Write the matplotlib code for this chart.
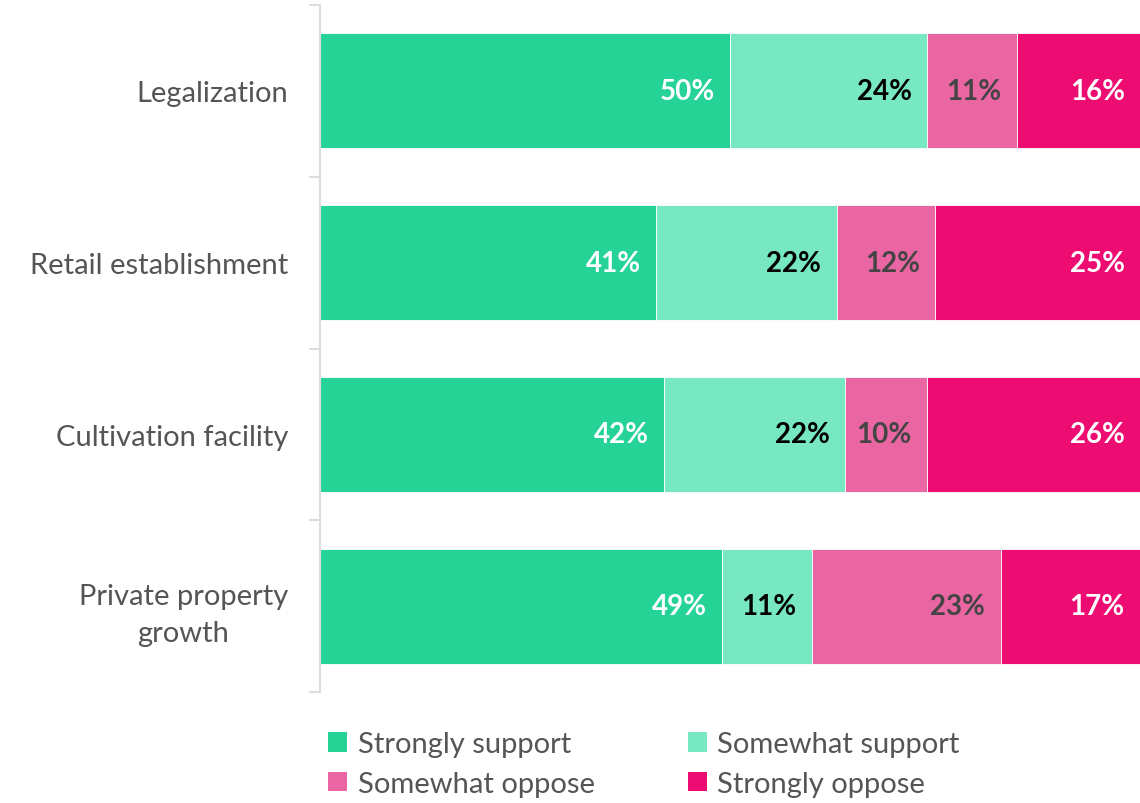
import matplotlib
matplotlib.use("Agg")
import matplotlib.pyplot as plt
from matplotlib.patches import Patch
import numpy as np

plt.rcParams['font.family'] = ['Lato', 'DejaVu Sans']

categories = ["Legalization", "Retail establishment", "Cultivation facility", "Private property\ngrowth"]
series_names = ["Strongly support", "Somewhat support", "Somewhat oppose", "Strongly oppose"]
strongly_support = [50, 41, 42, 49]
somewhat_support = [24, 22, 22, 11]
somewhat_oppose = [11, 12, 10, 23]
strongly_oppose = [16, 25, 26, 17]

colors = ["#26d396", "#78e8c2", "#e966a3", "#ec0c72"]
label_colors = ["white", "black", "#444444", "white"]

fig = plt.figure(figsize=(11.4, 8.04), dpi=100)
ax = fig.add_axes([320/1140, 111/804, 1 - 320/1140, (693-6)/804])

series = [strongly_support, somewhat_support, somewhat_oppose, strongly_oppose]
y = np.arange(len(categories))
left = np.zeros(len(categories))
XMAX = 100
for vals, c, lc, name in zip(series, colors, label_colors, series_names):
    vals = np.array(vals, dtype=float)
    ax.barh(y, vals, left=left, height=0.67, color=c, edgecolor="white", linewidth=0.6, label=name)
    for yi, l, v in zip(y, left, vals):
        end = min(l + v, XMAX)
        ax.annotate(f"{int(v)}%", xy=(end, yi), xytext=(-11, 0), textcoords="offset points",
                    ha="right", va="center", fontsize=20, fontweight="bold", color=lc)
    left += vals

ax.set_xlim(0, XMAX)
ax.set_ylim(3.5, -0.5)
ax.set_xticks([])
ax.set_yticks(y)
ax.set_yticklabels(categories, fontsize=21, color="#555555", ha="right", multialignment="center",
                   linespacing=1.55)
ax.tick_params(axis="y", which="major", length=0, pad=23)
ax.set_yticks(np.arange(-0.5, 4.0, 1.0), minor=True)
ax.tick_params(axis="y", which="minor", length=8, width=1.5, color="#dddddd")
for s in ["top", "right", "bottom"]:
    ax.spines[s].set_visible(False)
ax.spines["left"].set_color("#dddddd")
ax.spines["left"].set_linewidth(1.5)

order = [0, 2, 1, 3]
handles = [Patch(facecolor=colors[i], edgecolor="none") for i in order]
labels = [series_names[i] for i in order]
fig.legend(handles, labels, loc="upper left", bbox_to_anchor=(308/1140, 1 - 712/804), ncol=2,
           frameon=False, fontsize=21, labelcolor="#555555", handlelength=0.65, handleheight=0.65,
           handletextpad=0.35, columnspacing=3.2, labelspacing=0.45, borderpad=0.2)

fig.savefig("out.png", dpi=100)
